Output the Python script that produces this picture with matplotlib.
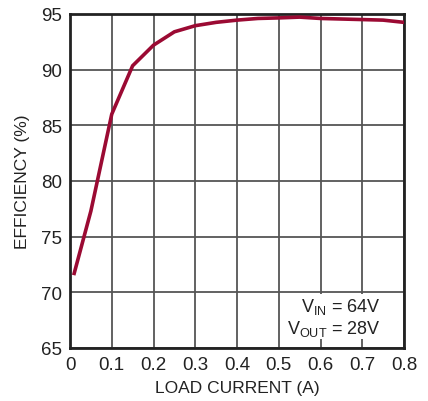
import matplotlib.pyplot as plt

# efficiency vs load current
load_current = [0.01, 0.05, 0.10, 0.15, 0.20, 0.25, 0.30, 0.35, 0.40, 0.45, 0.50, 0.55, 0.60, 0.65, 0.70, 0.75, 0.80]
efficiency = [71.7, 77.3, 86.0, 90.35, 92.2, 93.4, 93.95, 94.25, 94.45, 94.6, 94.65, 94.72, 94.6, 94.55, 94.5, 94.45, 94.25]

x_ticks = [0, 0.1, 0.2, 0.3, 0.4, 0.5, 0.6, 0.7, 0.8]
x_tick_labels = ["0", "0.1", "0.2", "0.3", "0.4", "0.5", "0.6", "0.7", "0.8"]
y_ticks = [65, 70, 75, 80, 85, 90, 95]

plt.rcParams["font.family"] = ["Liberation Sans", "DejaVu Sans"]
plt.rcParams["mathtext.fontset"] = "custom"
plt.rcParams["mathtext.rm"] = "Liberation Sans"

fig = plt.figure(figsize=(4.28, 4.02), dpi=100)
ax = fig.add_axes([70 / 428, 1 - 349 / 402, 334 / 428, 334 / 402])

ax.plot(load_current, efficiency, color="#9b0a33", lw=2.6, solid_joinstyle="miter", zorder=3)

ax.set_xlim(0, 0.8)
ax.set_ylim(65, 95)
ax.set_xticks(x_ticks)
ax.set_xticklabels(x_tick_labels)
ax.set_yticks(y_ticks)
ax.grid(True, color="#555555", lw=1.3)
ax.tick_params(length=0, labelsize=13.5, colors="#222222", pad=6)
for s in ax.spines.values():
    s.set_color("#222222")
    s.set_linewidth(2)

ax.set_xlabel("LOAD CURRENT (A)", fontsize=12.5, color="#222222", labelpad=5)
ax.set_ylabel("EFFICIENCY (%)", fontsize=12.5, color="#222222", labelpad=8)

ax.text(0.745, 65.9, "V$_{\\mathregular{IN}}$ = 64V\nV$_{\\mathregular{OUT}}$ = 28V",
        fontsize=13, color="#222222", ha="right", va="bottom", linespacing=1.15,
        bbox=dict(facecolor="white", edgecolor="none", pad=1))

fig.savefig("out.png", dpi=100)
